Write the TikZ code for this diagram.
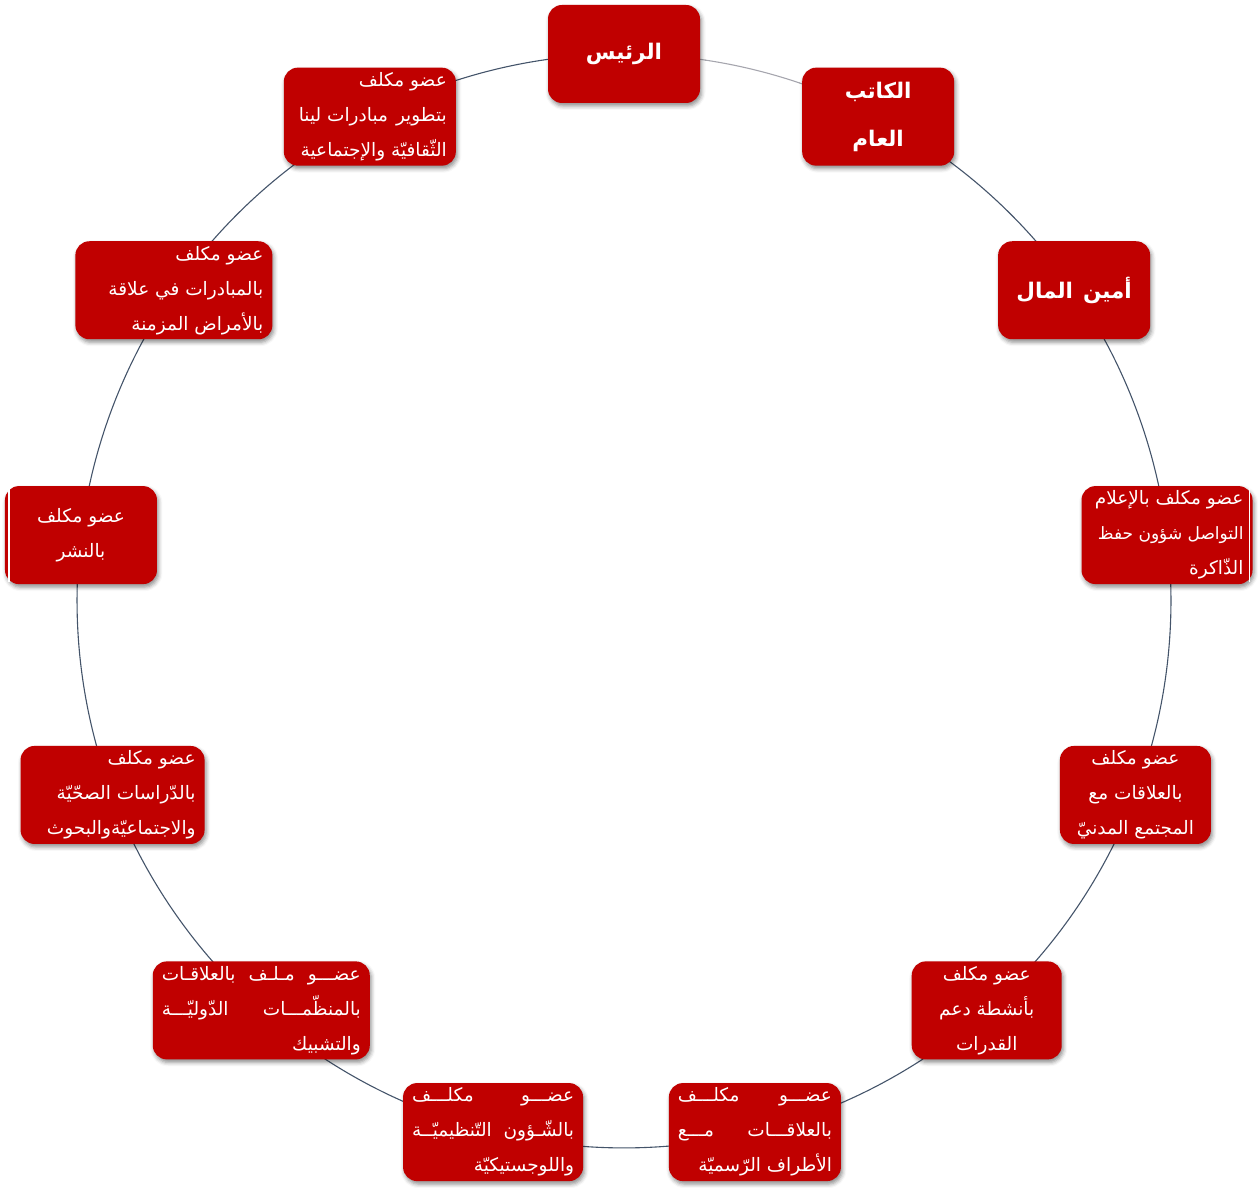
\documentclass[tikz,border=0pt]{standalone}
\usepackage{fontspec}
\newfontfamily\arabicfont[Script=Arabic]{DejaVu Sans}
\TeXXeTstate=1
\usetikzlibrary{backgrounds,shadows.blur}
\definecolor{boxred}{HTML}{C00000}
\definecolor{ringdark}{HTML}{44546A}
\definecolor{ringlight}{HTML}{A6A6AE}
\newcommand{\lineR}[1]{\hbox to\hsize{\hfill\beginR #1\endR}}
\newcommand{\lineC}[1]{\hbox to\hsize{\hfill\beginR #1\endR\hfill}}
\newcommand{\lineJ}[1]{\hbox to\hsize{\beginR #1\endR}}
\newcommand{\stack}[2]{\vbox{\hsize=#1pt\relax #2}}
\tikzset{
  box/.style={rectangle, rounded corners=14pt, fill=boxred, minimum height=98pt,
    inner xsep=9pt, inner ysep=3pt, text=white,
    font=\arabicfont\fontsize{18.5}{35}\selectfont,
    blur shadow={shadow xshift=1.5pt, shadow yshift=-3pt, shadow blur radius=4pt, shadow opacity=45}},
  titlebox/.style={box, font=\arabicfont\bfseries\fontsize{21.5}{48}\selectfont},
  ringline/.style={draw=ringdark, line width=1.1pt},
  ringarc/.style={bend left=13.846, looseness=0.864},
}
\begin{document}
\begin{tikzpicture}[x=1pt,y=1pt]
\useasboundingbox (0,0) rectangle (1258,1187);
\coordinate (c) at (624,586);
\path (c) ++(90:547) node[titlebox] (n1) {\stack{134}{\lineC{الرئيس}}};
\path (c) ++(62.31:547) node[titlebox] (n2) {\stack{134}{\lineC{الكاتب}\lineC{العام}}};
\path (c) ++(34.62:547) node[titlebox] (n3) {\stack{134}{\lineC{أمين\hskip 10pt المال}}};
\path (c) ++(6.92:547) node[box] (n4)
  {\stack{153}{\lineR{عضو مكلف بالإعلام}\lineR{\fontsize{17}{35}\selectfont التواصل شؤون حفظ}\lineR{الذّاكرة}}};
\path (c) ++(-20.77:547) node[box] (n5)
  {\stack{133}{\lineC{عضو مكلف}\lineC{بالعلاقات مع}\lineC{المجتمع المدنيّ}}};
\path (c) ++(-48.46:547) node[box] (n6)
  {\stack{132}{\lineC{عضو مكلف}\lineC{بأنشطة دعم}\lineC{القدرات}}};
\path (c) ++(-76.15:547) node[box] (n7)
  {\stack{154}{\lineJ{عضـــو\hfill مكلـــف}\lineJ{بالعلاقـــات\hfill مـــع}\lineR{الأطراف الرّسميّة}}};
\path (c) ++(-103.85:547) node[box] (n8)
  {\stack{162}{\lineJ{عضـــو\hfill مكلـــف}\lineJ{بالشّـؤون\hfill التّنظيميّــة}\lineR{واللوجستيكيّة}}};
\path (c) ++(-131.54:547) node[box] (n9)
  {\stack{199}{\lineJ{عضـــو\hfill مـلـف\hfill بالعلاقـات}\lineJ{بالمنظّمـــات\hfill الدّوليّـــة}\lineR{والتشبيك}}};
\path (c) ++(-159.23:547) node[box] (n10)
  {\stack{166}{\lineR{عضو مكلف}\lineR{بالدّراسات الصحّيّة}\lineR{والاجتماعيّةوالبحوث}}};
\path (c) ++(173.08:547) node[box] (n11)
  {\stack{134}{\lineC{عضو مكلف}\lineC{بالنشر}}};
\path (c) ++(145.38:547) node[box] (n12)
  {\stack{179}{\lineR{عضو مكلف}\lineR{بالمبادرات في علاقة}\lineR{بالأمراض المزمنة}}};
\path (c) ++(117.69:547) node[box] (n13)
  {\stack{154}{\lineR{عضو مكلف}\lineR{بتطوير\hskip 8pt مبادرات لينا}\lineR{الثّقافيّة والإجتماعية}}};
\draw[white, line width=1.5pt] ([xshift=-3pt,yshift=-2pt]n4.north east) -- ([xshift=-3pt,yshift=2pt]n4.south east);
\draw[white, line width=1.5pt] ([xshift=4pt,yshift=-2pt]n11.north west) -- ([xshift=4pt,yshift=2pt]n11.south west);
\begin{pgfonlayer}{background}
\draw[ringline, draw=ringlight] (n1.center) to[ringarc] (n2.center);
\foreach \a/\b in {n2/n3,n3/n4,n4/n5,n5/n6,n6/n7,n7/n8,n8/n9,n9/n10,n10/n11,n11/n12,n12/n13,n13/n1}
  \draw[ringline] (\a.center) to[ringarc] (\b.center);
\end{pgfonlayer}
\end{tikzpicture}
\end{document}
